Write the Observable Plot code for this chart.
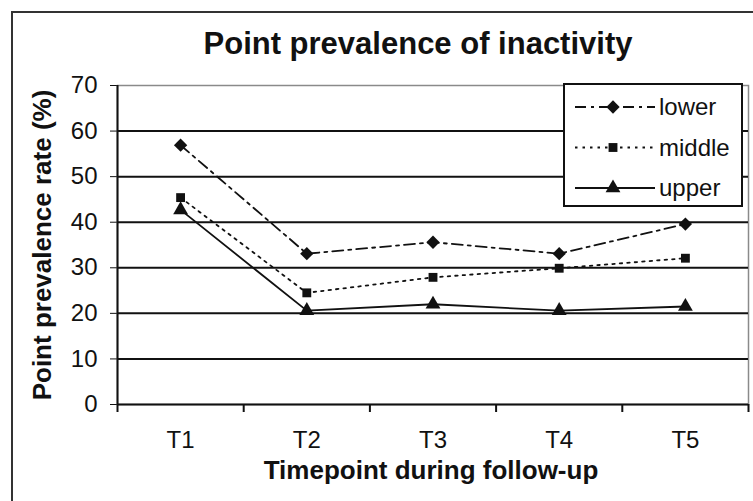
<!DOCTYPE html>
<html>
<head>
<meta charset="utf-8">
<script src="https://cdn.jsdelivr.net/npm/d3@7"></script>
<script src="https://cdn.jsdelivr.net/npm/@observablehq/plot@0.6"></script>
<style>
  html, body { margin: 0; padding: 0; background: #fff; }
  #wrap { position: relative; width: 753px; height: 501px; overflow: hidden; font-family: "Liberation Sans", Arial, sans-serif; color: #111; }
  #frame { position: absolute; left: 11px; top: 11px; width: 760px; height: 520px; border: 2px solid #333; box-sizing: border-box; }
  #chart { position: absolute; left: 0; top: 0; }
  #chart svg text { font-family: "Liberation Sans", Arial, sans-serif; font-size: 24px; fill: #111; }
  .ttl { position: absolute; white-space: nowrap; font-weight: bold; line-height: 1; }
  #title { left: 418px; top: 43px; transform: translate(-50%, -50%); font-size: 31px; }
  #xtitle { left: 431px; top: 470px; transform: translate(-50%, -50%); font-size: 26px; }
  #ytitle { left: 42px; top: 245px; transform: translate(-50%, -50%) rotate(-90deg); font-size: 26px; }
  #legend { position: absolute; left: 563px; top: 83px; }
</style>
</head>
<body>
<div id="wrap">
  <div id="frame"></div>
  <div id="chart"></div>
  <div class="ttl" id="title">Point prevalence of inactivity</div>
  <div class="ttl" id="xtitle">Timepoint during follow-up</div>
  <div class="ttl" id="ytitle">Point prevalence rate (%)</div>
  <div id="legend"></div>
</div>
<script>
// ---- data ----
const timepoints = ["T1", "T2", "T3", "T4", "T5"];
const seriesNames = ["lower", "middle", "upper"];
const lowerValues = [56.9, 33.1, 35.6, 33.1, 39.6];
const middleValues = [45.4, 24.5, 27.9, 29.9, 32.1];
const upperValues = [42.7, 20.6, 22.0, 20.6, 21.5];
const yTicks = [0, 10, 20, 30, 40, 50, 60, 70];

// ---- styles ----
const styles = {
  lower: { dash: "11,5,3,5", symbol: "diamond2", r: 6 },
  middle: { dash: "2.5,5", symbol: "square", r: 5 },
  upper: { dash: null, symbol: "triangle", r: 5.5 }
};

const valuesBySeries = { lower: lowerValues, middle: middleValues, upper: upperValues };
const rows = seriesNames.flatMap(s => valuesBySeries[s].map((v, i) => ({ series: s, t: i + 1, value: v })));

const W = 753, H = 501;
const mL = 117, mR = 5, mT = 85, mB = 97;
const xDomain = [0.5, timepoints.length + 0.5];
const boundaries = d3.range(timepoints.length + 1).map(i => i + 0.5);

const marks = [
  Plot.frame({ stroke: "#8a8a8a", strokeWidth: 1.5 }),
  Plot.ruleY(yTicks.filter(v => v < 70), { stroke: "#111", strokeWidth: 2 }),
  Plot.ruleX([xDomain[0]], { stroke: "#111", strokeWidth: 2 }),
  Plot.ruleX(boundaries, { stroke: "#111", strokeWidth: 2, insetTop: H - mT - mB, insetBottom: -8 })
];
for (const s of seriesNames) {
  const st = styles[s];
  const d = rows.filter(r => r.series === s);
  marks.push(Plot.line(d, { x: "t", y: "value", stroke: "#111", strokeWidth: 1.8, strokeDasharray: st.dash }));
  marks.push(Plot.dot(d, { x: "t", y: "value", symbol: () => st.symbol, fill: "#111", stroke: "none", r: st.r }));
}

const chart = Plot.plot({
  width: W, height: H,
  marginLeft: mL, marginRight: mR, marginTop: mT, marginBottom: mB,
  x: { type: "linear", domain: xDomain, ticks: timepoints.map((_, i) => i + 1), tickFormat: v => timepoints[v - 1], tickSize: 0, tickPadding: 26, label: null },
  y: { domain: [0, 70], ticks: yTicks, tickSize: 7, tickPadding: 13, label: null, tickFormat: d3.format("d") },
  symbol: { type: "identity" },
  style: { background: "transparent", color: "#111", overflow: "visible" },
  marks
});
document.getElementById("chart").appendChild(chart);

// ---- legend (built from the series arrays) ----
const lw = 180, lh = 124;
const leg = d3.select("#legend").append("svg").attr("width", lw).attr("height", lh)
  .style("font-family", "'Liberation Sans', Arial, sans-serif");
leg.append("rect").attr("x", 1).attr("y", 1).attr("width", lw - 2).attr("height", lh - 2)
  .attr("fill", "#fff").attr("stroke", "#111").attr("stroke-width", 2);
const symMap = { diamond2: d3.symbolDiamond2, square: d3.symbolSquare, triangle: d3.symbolTriangle };
seriesNames.forEach((s, i) => {
  const st = styles[s];
  const y = 24 + i * 40.5;
  const g = leg.append("g").attr("transform", `translate(0,${y})`);
  g.append("line").attr("x1", 12).attr("x2", 92).attr("y1", 0).attr("y2", 0)
    .attr("stroke", "#111").attr("stroke-width", 1.8).attr("stroke-dasharray", st.dash);
  g.append("path").attr("transform", "translate(50,0)")
    .attr("d", d3.symbol(symMap[st.symbol], Math.PI * st.r * st.r)()).attr("fill", "#111");
  g.append("text").attr("x", 96).attr("y", 0).attr("dy", "0.35em")
    .attr("font-size", 24).attr("fill", "#111").text(s);
});
</script>
</body>
</html>
